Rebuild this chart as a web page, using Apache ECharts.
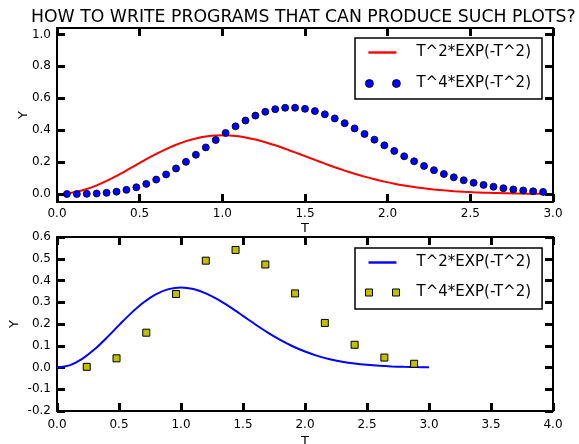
<!DOCTYPE html>
<html>
<head>
<meta charset="utf-8">
<script src="https://cdn.jsdelivr.net/npm/echarts@6/dist/echarts.min.js"></script>
<style>html,body{margin:0;padding:0;background:#fff}#c{width:579px;height:444px}</style>
</head>
<body>
<div id="c"></div>
<script>
// ---- data ----
const titleText = 'HOW TO WRITE PROGRAMS THAT CAN PRODUCE SUCH PLOTS?';
const legendLabels = ['T^2*EXP(-T^2)', 'T^4*EXP(-T^2)'];
const xName = 'T';
const yName = 'Y';

// top panel sample positions
const topT = [0.06,0.12,0.18,0.24,0.30,0.36,0.42,0.48,0.54,0.60,0.66,0.72,0.78,0.84,0.90,0.96,1.02,1.08,1.14,1.20,1.26,1.32,1.38,1.44,1.50,1.56,1.62,1.68,1.74,1.80,1.86,1.92,1.98,2.04,2.10,2.16,2.22,2.28,2.34,2.40,2.46,2.52,2.58,2.64,2.70,2.76,2.82,2.88,2.94];
// red line
const topLine = [0.0036,0.0142,0.0314,0.0544,0.0823,0.1138,0.1479,0.1830,0.2179,0.2512,0.2818,0.3087,0.3311,0.3484,0.3604,0.3667,0.3676,0.3633,0.3543,0.3411,0.3245,0.3051,0.2836,0.2607,0.2372,0.2135,0.1902,0.1678,0.1466,0.1269,0.1088,0.0924,0.0777,0.0648,0.0536,0.0439,0.0357,0.0287,0.0229,0.0181,0.0142,0.0111,0.0086,0.0066,0.0050,0.0037,0.0028,0.0021,0.0015];
// blue dots
const topDots = [0.0000,0.0002,0.0010,0.0031,0.0074,0.0148,0.0261,0.0422,0.0635,0.0904,0.1227,0.1600,0.2014,0.2459,0.2919,0.3380,0.3824,0.4238,0.4604,0.4912,0.5152,0.5316,0.5400,0.5405,0.5336,0.5196,0.4991,0.4736,0.4439,0.4111,0.3763,0.3406,0.3048,0.2698,0.2363,0.2050,0.1758,0.1493,0.1255,0.1045,0.0862,0.0704,0.0570,0.0457,0.0363,0.0286,0.0223,0.0172,0.0132];
const topYTicks = [0, 0.2, 0.4, 0.6, 0.8, 1.0];

// bottom panel
const botLineT = [0,0.1,0.2,0.3,0.4,0.5,0.6,0.7,0.8,0.9,1.0,1.1,1.2,1.3,1.4,1.5,1.6,1.7,1.8,1.9,2.0,2.1,2.2,2.3,2.4,2.5,2.6,2.7,2.8,2.9,3.0];
const botLine = [0,0.0099,0.0384,0.0823,0.1363,0.1947,0.2512,0.3002,0.3375,0.3604,0.3679,0.3608,0.3411,0.3118,0.2762,0.2372,0.1979,0.1606,0.1269,0.0977,0.0733,0.0536,0.0383,0.0267,0.0181,0.0121,0.0078,0.0050,0.0031,0.0019,0.0011];
const botSqT = [0.24,0.48,0.72,0.96,1.20,1.44,1.68,1.92,2.16,2.40,2.64,2.88];
const botSq = [0.0031,0.0422,0.1600,0.3380,0.4912,0.5405,0.4736,0.3406,0.2050,0.1045,0.0457,0.0172];

// ---- chart ----
const FONT = 'DejaVu Sans';
const pair = (xs, ys) => xs.map((x, i) => [x, ys[i]]);

function axisBase(extra) {
  return Object.assign({
    type: 'value',
    nameMoveOverlap: false,
    axisLine: { show: true, onZero: false, lineStyle: { color: '#000', width: 2 } },
    axisTick: { show: true, inside: true, length: 8, lineStyle: { color: '#000', width: 3 } },
    splitLine: { show: false },
    axisLabel: { show: true, color: '#000', fontFamily: FONT, fontSize: 12, margin: 5 },
    nameTextStyle: { color: '#000', fontFamily: FONT, fontSize: 13 }
  }, extra);
}
function mirror(a, pos) {
  const m = Object.assign({}, a);
  m.position = pos;
  m.axisLabel = Object.assign({}, a.axisLabel, { show: false });
  delete m.name;
  return m;
}

const x0 = axisBase({ gridIndex: 0, min: 0, max: 3, interval: 0.5, position: 'bottom',
  axisLabel: { color: '#000', fontFamily: FONT, fontSize: 12, margin: 6, formatter: v => v.toFixed(1) },
  name: xName, nameLocation: 'middle', nameGap: 20 });
const y0 = axisBase({ gridIndex: 0, min: -0.05, max: 1.04, position: 'left',
  axisLabel: { color: '#000', fontFamily: FONT, fontSize: 12, margin: 6, customValues: topYTicks,
    formatter: v => v.toFixed(1) },
  axisTick: { show: true, inside: true, length: 8, lineStyle: { color: '#000', width: 3 }, customValues: topYTicks },
  name: yName, nameLocation: 'middle', nameGap: 27 });
const x2 = axisBase({ gridIndex: 1, min: 0, max: 4, interval: 0.5, position: 'bottom',
  axisLabel: { color: '#000', fontFamily: FONT, fontSize: 12, margin: 8, formatter: v => v.toFixed(1) },
  name: xName, nameLocation: 'middle', nameGap: 24 });
const y2 = axisBase({ gridIndex: 1, min: -0.2, max: 0.6, interval: 0.1, position: 'left',
  axisLabel: { color: '#000', fontFamily: FONT, fontSize: 12, margin: 6, formatter: v => v.toFixed(1) },
  name: yName, nameLocation: 'middle', nameGap: 36 });

const labelOf = { a1: legendLabels[0], a2: legendLabels[1], b1: legendLabels[0], b2: legendLabels[1] };
const legendText = { color: '#000', fontFamily: FONT, fontSize: 15, padding: [0, 0, 0, 9] };

const option = {
  animation: false,
  backgroundColor: '#fff',
  title: { text: titleText, left: 31, top: 9, padding: 0,
    textStyle: { color: '#000', fontFamily: FONT, fontSize: 17.3, fontWeight: 'normal' } },
  grid: [
    { left: 57, right: 26, top: 28, bottom: 242, outerBoundsMode: 'none', containLabel: false },
    { left: 57, right: 26, top: 237, bottom: 33, outerBoundsMode: 'none', containLabel: false }
  ],
  xAxis: [x0, mirror(x0, 'top'), x2, mirror(x2, 'top')],
  yAxis: [y0, mirror(y0, 'right'), y2, mirror(y2, 'right')],
  legend: [
    { orient: 'vertical', left: 355, top: 38, itemWidth: 37, itemHeight: 12, itemGap: 16,
      padding: [7, 11, 8, 10], borderColor: '#000', borderWidth: 1.5, backgroundColor: '#fff',
      textStyle: legendText, formatter: n => labelOf[n],
      data: [
        { name: 'a1', icon: 'path://M0,0M37,12M3,4.8h28v2.4h-28z', itemStyle: { color: '#ff0000', borderWidth: 0 } },
        { name: 'a2', icon: 'path://M0,0M37,12M0,6a4,4 0 1,0 8,0a4,4 0 1,0 -8,0zM27,6a4,4 0 1,0 8,0a4,4 0 1,0 -8,0z', itemStyle: { color: '#0000ff', borderColor: '#000', borderWidth: 0.8 } }
      ] },
    { orient: 'vertical', left: 355, top: 248, itemWidth: 37, itemHeight: 12, itemGap: 15,
      padding: [7, 11, 9, 10], borderColor: '#000', borderWidth: 1.5, backgroundColor: '#fff',
      textStyle: legendText, formatter: n => labelOf[n],
      data: [
        { name: 'b1', icon: 'path://M0,0M37,12M3,4.8h28v2.4h-28z', itemStyle: { color: '#0000ff', borderWidth: 0 } },
        { name: 'b2', icon: 'path://M0,0M37,12M0,2.5h7v7h-7zM27,2.5h7v7h-7z', itemStyle: { color: '#bfbf00', borderColor: '#000', borderWidth: 1 } }
      ] }
  ],
  series: [
    { name: 'a1', type: 'line', xAxisIndex: 0, yAxisIndex: 0, data: pair(topT, topLine),
      smooth: 0.3, showSymbol: false, lineStyle: { color: '#ff0000', width: 2 }, itemStyle: { color: '#ff0000' }, z: 2 },
    { name: 'a2', type: 'scatter', xAxisIndex: 0, yAxisIndex: 0, data: pair(topT, topDots),
      symbol: 'circle', symbolSize: 7, itemStyle: { color: '#0000ff', borderColor: '#000', borderWidth: 0.8, opacity: 1 }, z: 3 },
    { name: 'b1', type: 'line', xAxisIndex: 2, yAxisIndex: 2, data: pair(botLineT, botLine),
      smooth: 0.3, showSymbol: false, lineStyle: { color: '#0000ff', width: 2 }, itemStyle: { color: '#0000ff' }, z: 2 },
    { name: 'b2', type: 'scatter', xAxisIndex: 2, yAxisIndex: 2, data: pair(botSqT, botSq),
      symbol: 'rect', symbolSize: 7, itemStyle: { color: '#bfbf00', borderColor: '#000', borderWidth: 1, opacity: 1 }, z: 3 }
  ]
};

const chart = echarts.init(document.getElementById('c'), null, { renderer: 'canvas' });
chart.setOption(option);
</script>
</body>
</html>
